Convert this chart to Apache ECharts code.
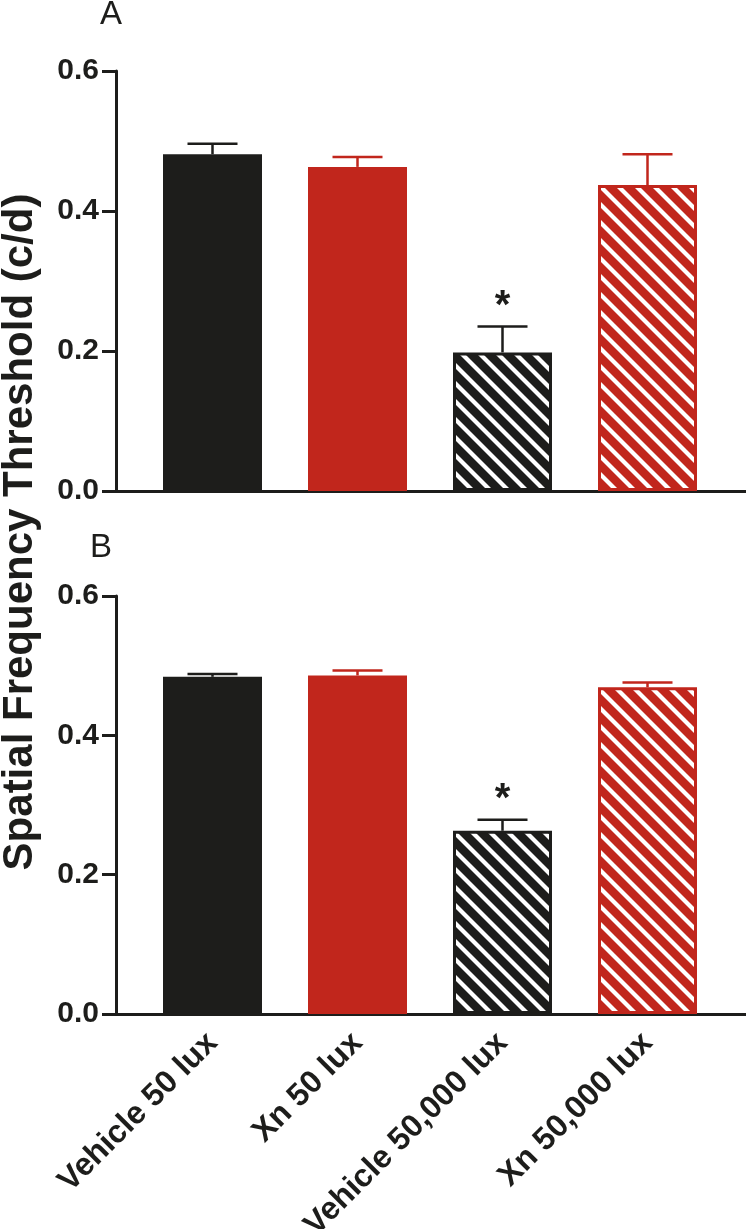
<!DOCTYPE html>
<html>
<head>
<meta charset="utf-8">
<script src="https://cdn.jsdelivr.net/npm/echarts@6/dist/echarts.min.js"></script>
<style>
  html, body { margin: 0; padding: 0; background: #ffffff; }
  #chart { width: 746px; height: 1229px; }
</style>
</head>
<body>
<div id="chart"></div>
<script>
// ---- data ----
const categories = ['Vehicle 50 lux', 'Xn 50 lux', 'Vehicle 50,000 lux', 'Xn 50,000 lux'];
const meanA = [0.481, 0.463, 0.198, 0.437];
const errA  = [0.015, 0.014, 0.037, 0.044];
const meanB = [0.484, 0.486, 0.263, 0.469];
const errB  = [0.004, 0.007, 0.016, 0.007];
const sigA = ['', '', '*', ''];
const sigB = ['', '', '*', ''];
const yTicks = [0, 0.2, 0.4, 0.6];
const panelLabels = ['A', 'B'];
const yTitle = 'Spatial Frequency Threshold (c/d)';

// ---- styles ----
const BLACK = '#1d1d1b';
const RED = '#c1261c';
const FONT = '"Liberation Sans", Arial, sans-serif';

function stripes(bg) {
  const s = 18;
  const c = document.createElement('canvas');
  c.width = s; c.height = s;
  const g = c.getContext('2d');
  g.fillStyle = bg; g.fillRect(0, 0, s, s);
  g.strokeStyle = '#ffffff'; g.lineWidth = 4.2;
  for (let k = -1; k <= 1; k++) {
    g.beginPath();
    g.moveTo(-2 + k * s, -2);
    g.lineTo(s + 2 + k * s, s + 2);
    g.stroke();
  }
  return c;
}
const patBlack = { image: stripes(BLACK), repeat: 'repeat' };
const patRed = { image: stripes(RED), repeat: 'repeat' };

const barStyles = [
  { color: BLACK, borderColor: BLACK, borderWidth: 0 },
  { color: RED, borderColor: RED, borderWidth: 0 },
  { color: patBlack, borderColor: BLACK, borderWidth: 3 },
  { color: patRed, borderColor: RED, borderWidth: 3 }
];
const errColors = [BLACK, RED, BLACK, RED];

const panels = [
  { top: 71, height: 420, mean: meanA, err: errA, sig: sigA },
  { top: 596, height: 418, mean: meanB, err: errB, sig: sigB }
];

const grid = [], xAxis = [], yAxis = [], series = [];
panels.forEach((p, i) => {
  grid.push({ left: 140, right: 26, top: p.top, height: p.height, containLabel: false, outerBoundsMode: 'none' });
  grid.push({ left: 116, right: 0, top: p.top, height: p.height, containLabel: false, outerBoundsMode: 'none' });
  const gMain = i * 2, gLine = i * 2 + 1;
  xAxis.push({
    type: 'category', gridIndex: gMain, data: categories,
    axisLine: { show: false }, axisTick: { show: false },
    axisLabel: {
      show: i === 1, interval: 0, rotate: 45, margin: 24,
      color: BLACK, fontFamily: FONT, fontWeight: 'bold', fontSize: 32
    }
  });
  xAxis.push({
    type: 'value', gridIndex: gLine, min: 0, max: 1,
    axisLine: { show: true, lineStyle: { color: BLACK, width: 3 } },
    axisTick: { show: false }, axisLabel: { show: false }, splitLine: { show: false }
  });
  yAxis.push({
    type: 'value', gridIndex: gMain, min: yTicks[0], max: yTicks[yTicks.length - 1], interval: 0.2,
    offset: 24,
    axisLine: { show: true, lineStyle: { color: BLACK, width: 3 } },
    axisTick: { show: true, length: 14, lineStyle: { color: BLACK, width: 3 } },
    axisLabel: {
      margin: 17, color: BLACK, fontFamily: FONT, fontWeight: 'bold', fontSize: 30,
      formatter: v => v.toFixed(1)
    },
    splitLine: { show: false }
  });
  yAxis.push({ type: 'value', gridIndex: gLine, min: 0, max: 1, show: false });

  series.push({
    type: 'bar', xAxisIndex: gMain, yAxisIndex: gMain, barWidth: 99, z: 2,
    data: p.mean.map((v, k) => ({ value: v, itemStyle: barStyles[k] })),
    silent: true
  });
  const sig = p.sig;
  series.push({
    type: 'custom', xAxisIndex: gMain, yAxisIndex: gMain, z: 5, silent: true,
    data: p.mean.map((v, k) => [k, v, v + p.err[k]]),
    renderItem: function (params, api) {
      const k = api.value(0);
      const base = api.coord([k, api.value(1)]);
      const top = api.coord([k, api.value(2)]);
      const col = errColors[params.dataIndex];
      const half = 25;
      const children = [
        { type: 'line', shape: { x1: top[0], y1: top[1], x2: base[0], y2: base[1] },
          style: { stroke: col, lineWidth: 2.5 } },
        { type: 'line', shape: { x1: top[0] - half, y1: top[1], x2: top[0] + half, y2: top[1] },
          style: { stroke: col, lineWidth: 2.5 } }
      ];
      const s = sig[params.dataIndex];
      if (s) {
        children.push({ type: 'text', x: top[0], y: top[1] - 20,
          style: { text: s, fill: BLACK, font: 'bold 40px "Liberation Sans"',
                   align: 'center', verticalAlign: 'middle' } });
      }
      return { type: 'group', children: children };
    }
  });
});

const chart = echarts.init(document.getElementById('chart'), null, { renderer: 'canvas' });
chart.setOption({
  backgroundColor: '#ffffff',
  animation: false,
  grid: grid, xAxis: xAxis, yAxis: yAxis, series: series,
  graphic: [
    { type: 'text', x: 111, y: 15,
      style: { text: panelLabels[0], fill: BLACK, font: '33px "Liberation Sans"', align: 'center', verticalAlign: 'middle' } },
    { type: 'text', x: 101, y: 548,
      style: { text: panelLabels[1], fill: BLACK, font: '33px "Liberation Sans"', align: 'center', verticalAlign: 'middle' } },
    { type: 'text', x: 20, y: 532, rotation: Math.PI / 2,
      style: { text: yTitle, fill: BLACK, font: 'bold 42px "Liberation Sans"', align: 'center', verticalAlign: 'middle' } }
  ]
});
</script>
</body>
</html>
